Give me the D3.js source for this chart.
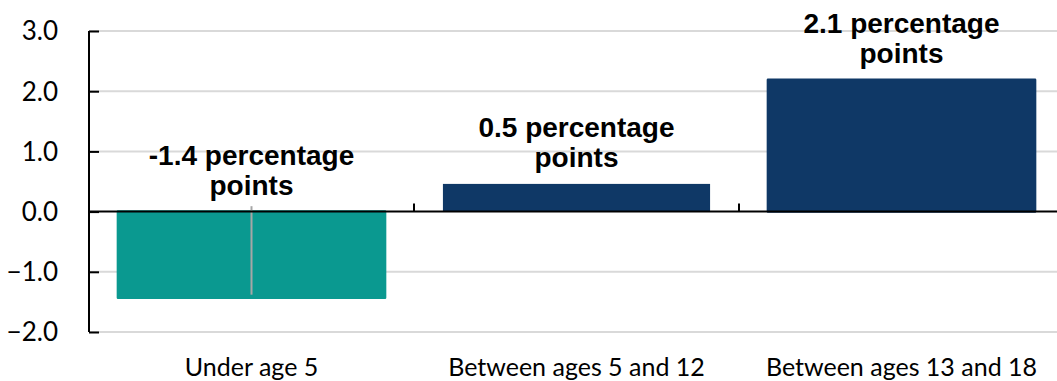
<!DOCTYPE html>
<html>
<head>
<meta charset="utf-8">
<script src="https://cdn.jsdelivr.net/npm/d3@7"></script>
<style>
  html, body { margin: 0; padding: 0; background: #fff; }
  svg { display: block; }
</style>
</head>
<body>
<svg id="chart" width="1057" height="381"></svg>
<script>
// ---- data ----
const categories = ["Under age 5", "Between ages 5 and 12", "Between ages 13 and 18"];
const values = [-1.43, 0.46, 2.19];
const labelLine1 = ["-1.4 percentage", "0.5 percentage", "2.1 percentage"];
const labelLine2 = ["points", "points", "points"];
const yTicks = [-2, -1, 0, 1, 2, 3];
const colors = ["#0a9990", "#0f3866", "#0f3866"];
// gray marker line inside first bar (from picture)
const markerCategory = "Under age 5";
const markerRange = [0.09, -1.38];

const svg = d3.select("#chart");
const x = d3.scaleBand().domain(categories).range([89, 1064]).paddingInner(0.178).paddingOuter(0.089);
const y = d3.scaleLinear().domain([-2, 3]).range([332, 31]);

// gridlines
svg.append("g").selectAll("line").data(yTicks.filter(d => d !== 0)).join("line")
  .attr("x1", 89).attr("x2", 1064)
  .attr("y1", d => y(d)).attr("y2", d => y(d))
  .attr("stroke", "#d9d9d9").attr("stroke-width", 2);

// bars
svg.append("g").selectAll("rect").data(values).join("rect")
  .attr("x", (d, i) => x(categories[i]))
  .attr("width", x.bandwidth())
  .attr("y", d => y(Math.max(0, d)))
  .attr("height", d => Math.abs(y(d) - y(0)))
  .attr("fill", (d, i) => colors[i])
  .attr("stroke", (d, i) => i === 1 ? "none" : colors[i])
  .attr("stroke-width", 2.5)
  .attr("stroke-linejoin", "round");

// marker line in first bar
svg.append("line")
  .attr("x1", x(markerCategory) + x.bandwidth() / 2)
  .attr("x2", x(markerCategory) + x.bandwidth() / 2)
  .attr("y1", y(markerRange[0])).attr("y2", y(markerRange[1]))
  .attr("stroke", "#a6a6a6").attr("stroke-width", 2);

// y axis
const yAxis = d3.axisRight(y).tickValues(yTicks).tickSize(10).tickFormat("");
const gy = svg.append("g").attr("transform", "translate(89,0)").call(yAxis);
gy.select(".domain").attr("stroke", "#000").attr("stroke-width", 2).attr("d", `M0,${y(3)}V${y(-2)}`);
gy.selectAll(".tick line").attr("stroke", "#000").attr("stroke-width", 2);

svg.append("g").selectAll("text").data(yTicks).join("text")
  .attr("x", 58).attr("y", d => y(d))
  .attr("dy", "0.36em")
  .attr("text-anchor", "end")
  .attr("font-family", "Lato, 'Open Sans', sans-serif")
  .attr("font-size", 26)
  .attr("fill", "#000")
  .text(d => d3.format(".1f")(d));

// zero line with category boundary ticks
svg.append("line")
  .attr("x1", 89).attr("x2", 1064)
  .attr("y1", y(0)).attr("y2", y(0))
  .attr("stroke", "#000").attr("stroke-width", 2);
const bounds = categories.slice(1).map(c => x(c) - x.step() * x.paddingInner() / 2);
svg.append("g").selectAll("line").data(bounds).join("line")
  .attr("x1", d => d).attr("x2", d => d)
  .attr("y1", y(0)).attr("y2", y(0) - 8)
  .attr("stroke", "#000").attr("stroke-width", 2);

// category labels
svg.append("g").selectAll("text").data(categories).join("text")
  .attr("x", d => x(d) + x.bandwidth() / 2)
  .attr("y", 376)
  .attr("text-anchor", "middle")
  .attr("font-family", "Lato, 'Open Sans', sans-serif")
  .attr("font-size", 25)
  .attr("fill", "#000")
  .text(d => d);

// value labels
const lab = svg.append("g").selectAll("text").data(values).join("text")
  .attr("text-anchor", "middle")
  .attr("font-family", "'Liberation Sans', Arial, sans-serif")
  .attr("font-weight", "bold")
  .attr("font-size", 28)
  .attr("fill", "#000");
lab.append("tspan")
  .attr("x", (d, i) => x(categories[i]) + x.bandwidth() / 2)
  .attr("y", d => y(Math.max(0, d)) - 47)
  .text((d, i) => labelLine1[i]);
lab.append("tspan")
  .attr("x", (d, i) => x(categories[i]) + x.bandwidth() / 2)
  .attr("y", d => y(Math.max(0, d)) - 17)
  .text((d, i) => labelLine2[i]);
</script>
</body>
</html>
